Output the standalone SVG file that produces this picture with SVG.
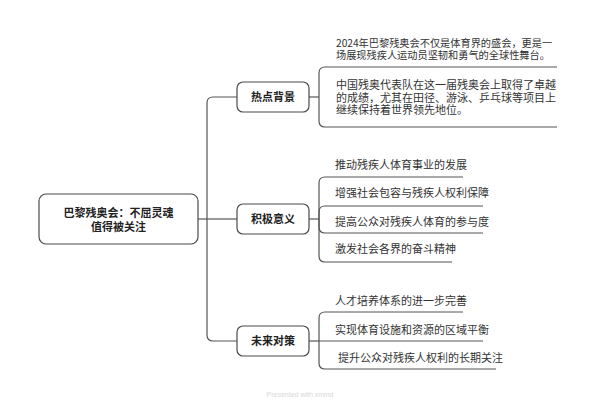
<svg xmlns="http://www.w3.org/2000/svg" width="600" height="400" viewBox="0 0 600 400">
<style>
.box{fill:#fff;stroke:#4a4a4a;stroke-width:1.2}
.ln{fill:none;stroke:#555;stroke-width:1.2}
.t{font-family:"Noto Sans CJK SC","Liberation Sans",sans-serif;font-size:11px;fill:#333}
.s{font-size:10.2px}
.b{font-family:"Noto Sans CJK SC","Liberation Sans",sans-serif;font-size:11px;font-weight:bold;fill:#222}
.wm{font-family:"Liberation Sans",sans-serif;font-size:7px;fill:#d8d8d8}
</style>
<rect width="600" height="400" fill="#fff"/>
<g id="connectors">
<path class="ln" d="M198,219 H207"/>
<path class="ln" d="M207,219 V103 Q207,97 213,97 H237"/>
<path class="ln" d="M207,219 H237"/>
<path class="ln" d="M207,219 V335 Q207,341 213,341 H237"/>
<path class="ln" d="M309,97 H319"/>
<path class="ln" d="M319,97 V73 Q319,67 325,67 H557"/>
<path class="ln" d="M319,97 V121 Q319,127 325,127 H557"/>
<path class="ln" d="M309,219 H319"/>
<path class="ln" d="M319,219 V183 Q319,177 325,177 H463"/>
<path class="ln" d="M319,219 V212 Q319,206 325,206 H483"/>
<path class="ln" d="M319,219 V227 Q319,233 325,233 H483"/>
<path class="ln" d="M319,219 V256 Q319,262 325,262 H452"/>
<path class="ln" d="M309,341 H319"/>
<path class="ln" d="M319,341 V318 Q319,312 325,312 H463"/>
<path class="ln" d="M319,341 H483"/>
<path class="ln" d="M319,341 V363 Q319,369 325,369 H496"/>
</g>
<g id="root">
<rect class="box" x="39" y="194" width="159" height="50" rx="7"/>
<text class="b" text-anchor="middle"><tspan x="118.5" y="217">巴黎残奥会：不屈灵魂</tspan><tspan x="118.5" y="231">值得被关注</tspan></text>
</g>
<g id="n1">
<rect class="box" x="237" y="82" width="72" height="30" rx="6"/>
<text class="b" x="273" y="101" text-anchor="middle">热点背景</text>
</g>
<g id="n2">
<rect class="box" x="237" y="204" width="72" height="30" rx="6"/>
<text class="b" x="273" y="223" text-anchor="middle">积极意义</text>
</g>
<g id="n3">
<rect class="box" x="237" y="326" width="72" height="30" rx="6"/>
<text class="b" x="273" y="345" text-anchor="middle">未来对策</text>
</g>
<g id="n1a"><text class="t s"><tspan x="336" y="47">2024年巴黎残奥会不仅是体育界的盛会，更是一</tspan><tspan x="336" y="59">场展现残疾人运动员坚韧和勇气的全球性舞台。</tspan></text></g>
<g id="n1b"><text class="t"><tspan x="336" y="89">中国残奥代表队在这一届残奥会上取得了卓越</tspan><tspan x="336" y="101.5">的成绩，尤其在田径、游泳、乒乓球等项目上</tspan><tspan x="336" y="114">继续保持着世界领先地位。</tspan></text></g>
<g id="n2a"><text class="t" x="335" y="169">推动残疾人体育事业的发展</text></g>
<g id="n2b"><text class="t" x="335" y="197">增强社会包容与残疾人权利保障</text></g>
<g id="n2c"><text class="t" x="335" y="226">提高公众对残疾人体育的参与度</text></g>
<g id="n2d"><text class="t" x="335" y="253">激发社会各界的奋斗精神</text></g>
<g id="n3a"><text class="t" x="335" y="305">人才培养体系的进一步完善</text></g>
<g id="n3b"><text class="t" x="335" y="334">实现体育设施和资源的区域平衡</text></g>
<g id="n3c"><text class="t" x="338" y="362">提升公众对残疾人权利的长期关注</text></g>
<text class="wm" x="300" y="397" text-anchor="middle">Presented with xmind</text>
</svg>
